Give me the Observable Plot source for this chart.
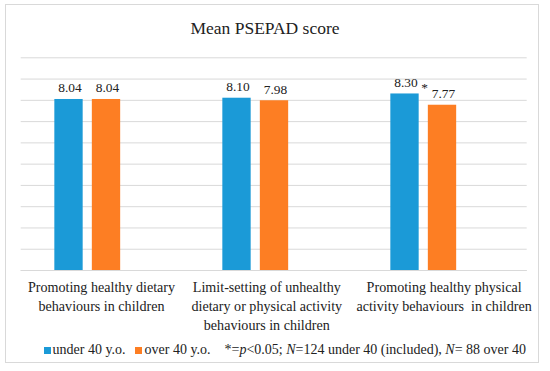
<!DOCTYPE html>
<html>
<head>
<meta charset="utf-8">
<script src="https://cdn.jsdelivr.net/npm/d3@7"></script>
<script src="https://cdn.jsdelivr.net/npm/@observablehq/plot@0.6"></script>
<style>
  html, body { margin: 0; padding: 0; background: #fff; }
  #wrap { position: relative; width: 550px; height: 371px; overflow: hidden; font-family: "Liberation Serif", "DejaVu Serif", serif; color: #222; }
  #border { position: absolute; left: 5px; top: 4px; width: 534px; height: 359px; border: 1px solid #d9d9d9; box-sizing: border-box; }
  #title { position: absolute; left: 0; top: 17px; width: 530px; text-align: center; font-size: 17.5px; line-height: 22px; }
  #plot { position: absolute; left: 0; top: 0; }
  #plot svg, #plot svg text { font-family: "Liberation Serif", "DejaVu Serif", serif !important; }
  #legend { position: absolute; top: 341px; left: 0; width: 550px; height: 20px; font-size: 14px; line-height: 18px; }
  #legend .sw { position: absolute; top: 6px; width: 7px; height: 7px; }
  #legend .lab { position: absolute; top: 0; white-space: nowrap; }
</style>
</head>
<body>
<div id="wrap">
  <div id="border"></div>
  <div id="title">Mean PSEPAD score</div>
  <div id="plot"></div>
  <div id="legend"></div>
</div>
<script>
// ---- data ----
const categories = [
  "Promoting healthy dietary behaviours in children",
  "Limit-setting of unhealthy dietary or physical activity behaviours in children",
  "Promoting healthy physical activity behaviours  in children"
];
const categoryLabels = [
  "Promoting healthy dietary\nbehaviours in children",
  "Limit-setting of unhealthy\ndietary or physical activity\nbehaviours in children",
  "Promoting healthy physical\nactivity behaviours  in children"
];
const seriesNames = ["under 40 y.o.", "over 40 y.o."];
const under40 = [8.04, 8.10, 8.30];
const over40 = [8.04, 7.98, 7.77];
const significance = ["", "", "*"];
const seriesColors = ["#1b9ad7", "#fd7e23"];

// ---- layout ----
const W = 550, H = 335;
const mL = 20.7, mR = 23.3, mT = 57.3, mB = H - 270;
const bw = (W - mL - mR) / categories.length;
const barW = 29;
const offsets = [-37.5, 0];          // bar centre nudge from band centre, per series
const labelNudge = [-5, -7.7, 1.6];  // category label nudge from band centre

const rows = [];
categories.forEach((c, i) => {
  rows.push({category: c, series: seriesNames[0], value: under40[i], sig: significance[i], s: 0});
  rows.push({category: c, series: seriesNames[1], value: over40[i], sig: "", s: 1});
});

const barMarks = seriesNames.map((name, s) => {
  const data = rows.filter(d => d.s === s);
  const inL = bw / 2 - barW / 2 + offsets[s];
  const inR = bw / 2 - barW / 2 - offsets[s];
  return [
    Plot.barY(data, {x: "category", y: "value", fill: seriesColors[s], insetLeft: inL, insetRight: inR}),
    Plot.text(data, {x: "category", y: "value", text: d => d.value.toFixed(2), dx: offsets[s] + 1, dy: -7,
      lineAnchor: "bottom", fontSize: 13.4, fill: "#222"})
  ];
});

const labelMarks = categories.map((c, i) =>
  Plot.text([c], {x: d => d, text: () => categoryLabels[i], frameAnchor: "bottom",
    lineAnchor: "top", dx: labelNudge[i], dy: 7.5, fontSize: 14.1, lineHeight: 1.37, fill: "#222"})
);

const chart = Plot.plot({
  width: W,
  height: H,
  marginTop: mT, marginBottom: mB, marginLeft: mL, marginRight: mR,
  style: {background: "transparent", overflow: "visible"},
  x: {domain: categories, padding: 0, axis: null},
  y: {domain: [0, 10], axis: null},
  marks: [
    Plot.gridY({ticks: 10, stroke: "#d9d9d9", strokeOpacity: 1, strokeWidth: 1}),
    Plot.ruleY([0], {stroke: "#d9d9d9", strokeWidth: 1}),
    ...barMarks.flat(),
    Plot.text(rows.filter(d => d.sig), {x: "category", y: "value", text: "sig", dx: offsets[0] + 19.5, dy: -1.5,
      lineAnchor: "bottom", fontSize: 13.4, fill: "#222"}),
    ...labelMarks
  ]
});
document.getElementById("plot").appendChild(chart);

// ---- legend ----
const legend = document.getElementById("legend");
const swLeft = [44, 135];
const labLeft = [52.5, 144.5];
seriesNames.forEach((name, s) => {
  const sw = document.createElement("span");
  sw.className = "sw";
  sw.style.left = swLeft[s] + "px";
  sw.style.background = seriesColors[s];
  legend.appendChild(sw);
  const lab = document.createElement("span");
  lab.className = "lab";
  lab.style.left = labLeft[s] + "px";
  lab.textContent = name;
  legend.appendChild(lab);
});
const note = document.createElement("span");
note.className = "lab";
note.style.left = "224.5px";
note.innerHTML = "*=<i>p</i>&lt;0.05; <i>N</i>=124 under 40 (included), <i>N</i>= 88 over 40";
legend.appendChild(note);
</script>
</body>
</html>
